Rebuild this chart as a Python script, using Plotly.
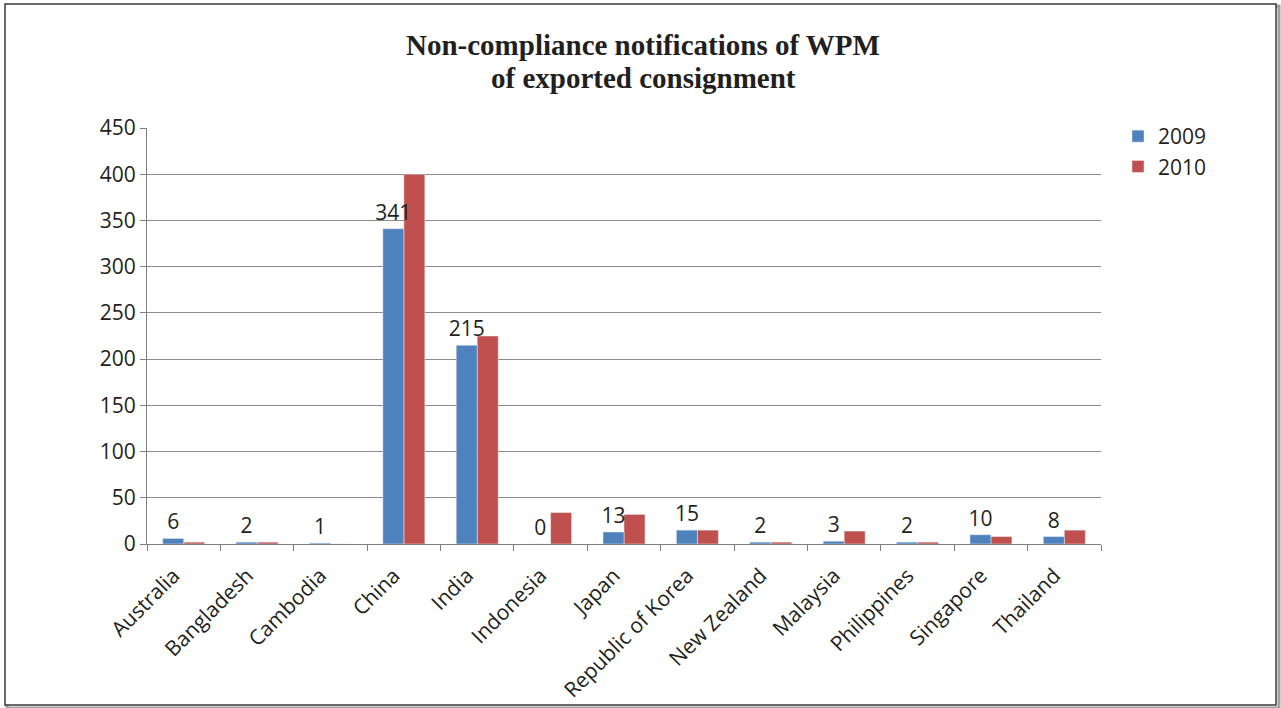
import plotly.graph_objects as go

countries = ["Australia", "Bangladesh", "Cambodia", "China", "India", "Indonesia", "Japan",
             "Republic of Korea", "New Zealand", "Malaysia", "Philippines", "Singapore", "Thailand"]
values_2009 = [6, 2, 1, 341, 215, 0, 13, 15, 2, 3, 2, 10, 8]
values_2010 = [2, 2, 0, 400, 225, 34, 32, 15, 2, 14, 2, 8, 15]
y_ticks = [0, 50, 100, 150, 200, 250, 300, 350, 400, 450]
title_lines = ["Non-compliance notifications of WPM", "of exported consignment"]

W, H = 1281, 708
L, R, T, B = 147, 180, 128, 164
pw, ph = W - L - R, H - T - B

def px_x(p):
    return (p - L) / pw

def px_y(p):
    return (H - B - p) / ph

font_main = "Open Sans, Noto Sans, sans-serif"
text_col = "#231F20"
bar_w = 0.286

fig = go.Figure()
# 2010 drawn first so that 2009's value labels sit on top of it
fig.add_trace(go.Bar(
    x=countries, y=values_2010, name="2010", marker_color="#C0504D",
    width=bar_w, offset=0,
))
fig.add_trace(go.Bar(
    x=countries, y=values_2009, name="2009", marker_color="#4F81BD",
    width=bar_w, offset=-bar_w,
    text=[str(v) for v in values_2009], textposition="outside", cliponaxis=False,
    textfont=dict(size=21, color=text_col, family=font_main),
))

fig.update_layout(
    width=W, height=H,
    margin=dict(l=L, r=R, t=T, b=B, autoexpand=False),
    paper_bgcolor="white", plot_bgcolor="white",
    barmode="overlay",
    legend=dict(
        x=px_x(1118), y=px_y(116), xanchor="left", yanchor="top",
        font=dict(size=21, family=font_main, color=text_col),
        tracegroupgap=10, itemwidth=30, traceorder="reversed",
    ),
    uniformtext=dict(minsize=21, mode="show"),
)
for line, yc in zip(title_lines, [45, 78]):
    fig.add_annotation(
        text=line, xref="paper", yref="paper", x=px_x(643), y=px_y(yc),
        xanchor="center", yanchor="middle", showarrow=False,
        font=dict(family="Liberation Serif, Times New Roman, serif", size=29, color=text_col, weight="bold"),
    )

fig.update_xaxes(
    showline=True, linecolor="#7f7f7f", linewidth=1,
    ticks="outside", tickson="boundaries", ticklen=6, tickcolor="#7f7f7f",
    tickangle=-45, tickfont=dict(size=21, family=font_main, color=text_col),
    ticklabelstandoff=10, ticklabelshift=-10, automargin=False,
)
fig.update_yaxes(
    range=[0, 450], tickvals=y_ticks,
    showline=True, linecolor="#7f7f7f", linewidth=1,
    ticks="outside", ticklen=6, tickcolor="#7f7f7f",
    showgrid=True, gridcolor="#8c8c8c", gridwidth=1,
    tickfont=dict(size=21, family=font_main, color=text_col),
    zeroline=False, automargin=False,
)

# outer frame with shadow
fig.add_shape(type="rect", xref="paper", yref="paper",
              x0=px_x(7), x1=px_x(1279), y0=px_y(708), y1=px_y(6),
              line=dict(color="#a0a0a0", width=3), layer="below")
fig.add_shape(type="rect", xref="paper", yref="paper",
              x0=px_x(5), x1=px_x(1276), y0=px_y(705), y1=px_y(4),
              line=dict(color="#3a3a3a", width=1.5), fillcolor="white", layer="below")

fig.write_html("out.html", config={"displayModeBar": False},
               post_script="document.body.style.margin='0';document.body.style.overflow='hidden';")
